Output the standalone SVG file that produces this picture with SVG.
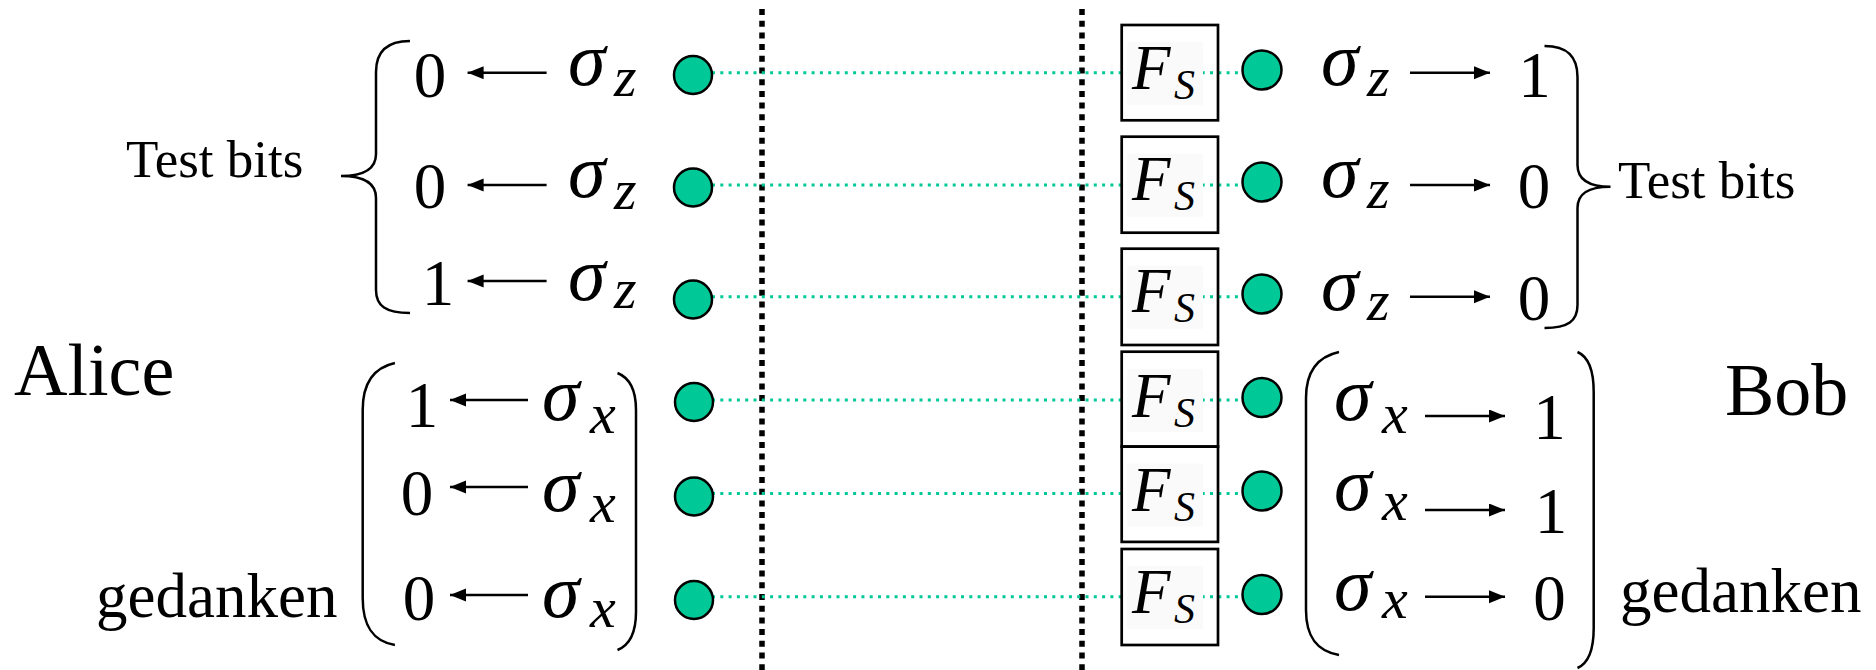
<svg xmlns="http://www.w3.org/2000/svg" width="1876" height="670" viewBox="0 0 1876 670">
  <defs>
    <marker id="head" markerUnits="userSpaceOnUse" markerWidth="17" markerHeight="14" refX="16" refY="6.5" orient="auto">
      <path d="M0,0 L16,6.5 L0,13 z" fill="#000"/>
    </marker>
    <style>
      .txt { font-family: "Liberation Serif", "Times New Roman", serif; fill: #000; }
      .lbl { font-size: 53px; }
      .big { font-size: 74px; }
      .ged { font-size: 63px; }
      .dig { font-size: 65px; text-anchor: middle; }
      .sig { font-family: "Liberation Serif", "Times New Roman", serif; font-style: italic; font-size: 76px; }
      .sub { font-family: "Liberation Serif", "Times New Roman", serif; font-style: italic; font-size: 58px; }
      .fF { font-family: "Liberation Serif", "Times New Roman", serif; font-style: italic; font-size: 63px; }
      .fS { font-family: "Liberation Serif", "Times New Roman", serif; font-style: italic; font-size: 42px; }
      .qubit { fill: #00C896; stroke: #000; stroke-width: 2.5; }
      .box { fill: none; stroke: #000; stroke-width: 2.7; }
      .eqbg { fill: #fafafa; }
      .brace { fill: none; stroke: #000; stroke-width: 2.5; }
      .channel { stroke: #00C896; stroke-width: 3; stroke-dasharray: 3 5.3; fill: none; }
      .wall { stroke: #000; stroke-width: 5.5; stroke-dasharray: 6 5.7; fill: none; }
      .meas { stroke: #000; stroke-width: 2.5; fill: none; marker-end: url(#head); }
    </style>
  </defs>

  <rect width="1876" height="670" fill="#fff"/>

  <!-- connectors: entangled pairs, the two dividing walls, measurement arrows -->
  <g id="connectors">
    <line class="wall" x1="762" y1="9" x2="762" y2="670"/>
    <line class="wall" x1="1082" y1="9" x2="1082" y2="670"/>

    <line class="channel" x1="712" y1="72.7" x2="1243" y2="72.7"/>
    <line class="channel" x1="712" y1="185" x2="1243" y2="185"/>
    <line class="channel" x1="712" y1="296.7" x2="1243" y2="296.7"/>
    <line class="channel" x1="712" y1="400" x2="1243" y2="400"/>
    <line class="channel" x1="712" y1="493.5" x2="1243" y2="493.5"/>
    <line class="channel" x1="712" y1="596.7" x2="1243" y2="596.7"/>

    <!-- Alice's readout arrows -->
    <line class="meas" x1="546.6" y1="72.7" x2="467.6" y2="72.7"/>
    <line class="meas" x1="546.6" y1="185" x2="467.6" y2="185"/>
    <line class="meas" x1="546.6" y1="281" x2="467.6" y2="281"/>
    <line class="meas" x1="528" y1="400" x2="450" y2="400"/>
    <line class="meas" x1="528" y1="487" x2="450" y2="487"/>
    <line class="meas" x1="528" y1="595" x2="450" y2="595"/>

    <!-- Bob's readout arrows -->
    <line class="meas" x1="1410" y1="72.7" x2="1490" y2="72.7"/>
    <line class="meas" x1="1410" y1="185" x2="1490" y2="185"/>
    <line class="meas" x1="1410" y1="296.7" x2="1490" y2="296.7"/>
    <line class="meas" x1="1425" y1="416" x2="1505" y2="416"/>
    <line class="meas" x1="1425" y1="510" x2="1505" y2="510"/>
    <line class="meas" x1="1425" y1="596.7" x2="1505" y2="596.7"/>
  </g>

  <!-- party names -->
  <g id="alice"><text class="txt big" x="14" y="395">Alice</text></g>
  <g id="bob"><text class="txt big" x="1725" y="415">Bob</text></g>

  <!-- grouping brackets and their labels -->
  <g id="alice-test">
    <path class="brace" d="M410,41 C386,41 376,52 376,72 L376,154 C376,168 366,176 341,176 C366,176 376,184 376,198 L376,290 C376,306 386,313 410,313"/>
    <text class="txt lbl" x="126" y="177">Test bits</text>
  </g>
  <g id="bob-test">
    <path class="brace" d="M1544.5,46 C1568,46 1577.5,57 1577.5,77 L1577.5,165 C1577.5,179 1587,186.7 1610.5,186.7 C1587,186.7 1577.5,194 1577.5,208 L1577.5,305 C1577.5,321 1568,328 1544.5,328"/>
    <text class="txt lbl" x="1618" y="198">Test bits</text>
  </g>
  <g id="alice-gedanken">
    <path class="brace" d="M394.9,363 C372,368 362.7,385 362.7,410 L362.7,598 C362.7,625 372,641 394.9,645"/>
    <path class="brace" d="M617.5,373 C630,378 636,390 636,410 L636,612 C636,632 630,645 617.5,650"/>
    <text class="txt ged" x="96" y="617">gedanken</text>
  </g>
  <g id="bob-gedanken">
    <path class="brace" d="M1339,352 C1316,357 1306,373 1306,398 L1306,610 C1306,636 1316,651 1339,655"/>
    <path class="brace" d="M1577.5,352 C1589,357 1593.7,370 1593.7,392 L1593.7,628 C1593.7,650 1589,663 1577.5,668"/>
    <text class="txt ged" x="1620" y="612">gedanken</text>
  </g>

  <!-- Alice's measurements -->
  <g id="alice-row1">
    <text class="txt dig" x="430" y="97">0</text>
    <text class="sig" x="568" y="85">σ</text><text class="sub" x="614" y="96">z</text>
    <circle class="qubit" cx="693" cy="75" r="19"/>
  </g>
  <g id="alice-row2">
    <text class="txt dig" x="430" y="208">0</text>
    <text class="sig" x="568" y="197">σ</text><text class="sub" x="614" y="209">z</text>
    <circle class="qubit" cx="693" cy="187.5" r="19"/>
  </g>
  <g id="alice-row3">
    <text class="txt dig" x="438" y="305">1</text>
    <text class="sig" x="568" y="300">σ</text><text class="sub" x="614" y="308">z</text>
    <circle class="qubit" cx="693" cy="299.5" r="19"/>
  </g>
  <g id="alice-row4">
    <text class="txt dig" x="422" y="427">1</text>
    <text class="sig" x="542" y="420">σ</text><text class="sub" x="590" y="433">x</text>
    <circle class="qubit" cx="694" cy="402" r="19"/>
  </g>
  <g id="alice-row5">
    <text class="txt dig" x="417" y="515">0</text>
    <text class="sig" x="542" y="511">σ</text><text class="sub" x="590" y="522">x</text>
    <circle class="qubit" cx="694" cy="496.5" r="19"/>
  </g>
  <g id="alice-row6">
    <text class="txt dig" x="419" y="620">0</text>
    <text class="sig" x="542" y="617">σ</text><text class="sub" x="590" y="627">x</text>
    <circle class="qubit" cx="694" cy="600" r="19"/>
  </g>

  <!-- Bob's filters and measurements -->
  <g id="bob-row1">
    <rect class="eqbg" x="1127" y="42" width="76" height="63"/>
    <rect class="box" x="1121.7" y="25" width="96.3" height="95.3"/>
    <text class="fF" x="1132" y="88.5">F</text><text class="fS" x="1174" y="98.5">S</text>
    <circle class="qubit" cx="1262" cy="70" r="19.5"/>
    <text class="sig" x="1321" y="85">σ</text><text class="sub" x="1367" y="96">z</text>
    <text class="txt dig" x="1534.5" y="96.7">1</text>
  </g>
  <g id="bob-row2">
    <rect class="eqbg" x="1127" y="153.7" width="76" height="63"/>
    <rect class="box" x="1121.7" y="136.7" width="96.3" height="96"/>
    <text class="fF" x="1132" y="200.2">F</text><text class="fS" x="1174" y="210.2">S</text>
    <circle class="qubit" cx="1262" cy="182" r="19.5"/>
    <text class="sig" x="1321" y="197">σ</text><text class="sub" x="1367" y="208">z</text>
    <text class="txt dig" x="1534" y="208">0</text>
  </g>
  <g id="bob-row3">
    <rect class="eqbg" x="1127" y="265.7" width="76" height="63"/>
    <rect class="box" x="1121.7" y="248.7" width="96.3" height="96.3"/>
    <text class="fF" x="1132" y="312.2">F</text><text class="fS" x="1174" y="322.2">S</text>
    <circle class="qubit" cx="1262" cy="294" r="19.5"/>
    <text class="sig" x="1321" y="310">σ</text><text class="sub" x="1367" y="320">z</text>
    <text class="txt dig" x="1534" y="320">0</text>
  </g>
  <g id="bob-row4">
    <rect class="eqbg" x="1127" y="368.7" width="76" height="63"/>
    <rect class="box" x="1121.7" y="351.7" width="96.3" height="94.9"/>
    <text class="fF" x="1132" y="416.5">F</text><text class="fS" x="1174" y="426.5">S</text>
    <circle class="qubit" cx="1262" cy="397.5" r="19.5"/>
    <text class="sig" x="1334" y="420">σ</text><text class="sub" x="1382" y="433">x</text>
    <text class="txt dig" x="1549.5" y="439">1</text>
  </g>
  <g id="bob-row5">
    <rect class="eqbg" x="1127" y="463.6" width="76" height="63"/>
    <rect class="box" x="1121.7" y="446.6" width="96.3" height="95.3"/>
    <text class="fF" x="1132" y="510.5">F</text><text class="fS" x="1174" y="520.5">S</text>
    <circle class="qubit" cx="1262" cy="491" r="19.5"/>
    <text class="sig" x="1334" y="510">σ</text><text class="sub" x="1382" y="520">x</text>
    <text class="txt dig" x="1551" y="533">1</text>
  </g>
  <g id="bob-row6">
    <rect class="eqbg" x="1127" y="566" width="76" height="63"/>
    <rect class="box" x="1121.7" y="549" width="96.3" height="96"/>
    <text class="fF" x="1132" y="612.5">F</text><text class="fS" x="1174" y="622.5">S</text>
    <circle class="qubit" cx="1262" cy="594.5" r="19.5"/>
    <text class="sig" x="1334" y="610">σ</text><text class="sub" x="1382" y="618">x</text>
    <text class="txt dig" x="1549.5" y="620">0</text>
  </g>
</svg>
